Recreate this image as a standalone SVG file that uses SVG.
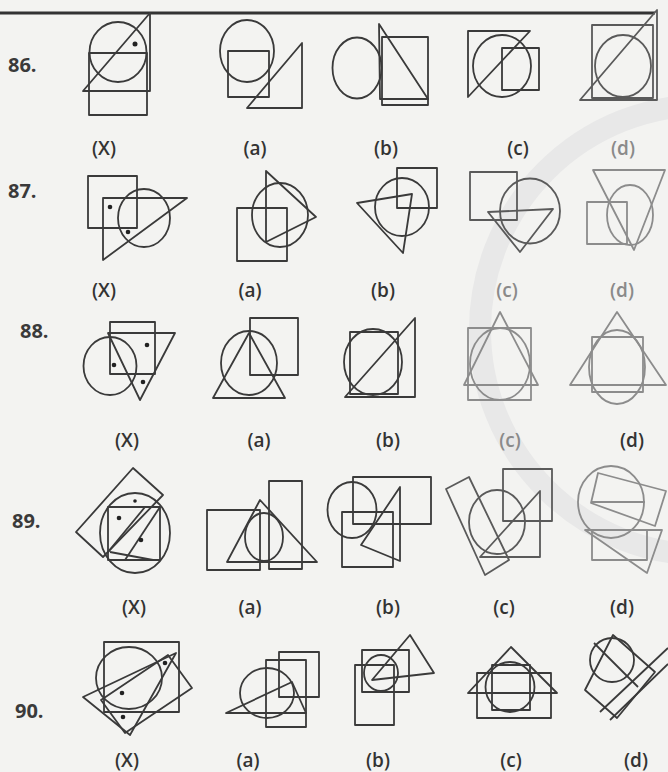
<svg xmlns="http://www.w3.org/2000/svg" width="668" height="772" viewBox="0 0 668 772">
<style>
.s{fill:none;stroke:#3a3a3a;stroke-width:1.8;stroke-linejoin:round}
.m{stroke:#5a5a5a}
.l{stroke:#8c8c8c}
.d{fill:#222}
.num{font-family:"Open Sans","Liberation Sans",sans-serif;font-weight:bold;font-size:20px;fill:#3a3a3a}
.lab{font-family:"Open Sans","Liberation Sans",sans-serif;font-weight:600;font-size:19px;fill:#333;text-anchor:middle}
.lg{fill:#8a8a8a}
</style>
<rect width="668" height="772" fill="#f3f3f1"/>
<circle cx="705" cy="330" r="225" fill="none" stroke="#e8e8e8" stroke-width="22"/>
<line x1="0" y1="13" x2="655" y2="13" stroke="#333" stroke-width="3"/>

<!-- Row 86 -->
<text class="num" x="8" y="72">86.</text>
<g id="q86x" class="s">
<ellipse cx="118" cy="52" rx="28.5" ry="30"/>
<polygon points="150,13 83,91 150,91"/>
<rect x="89" y="53" width="58" height="62"/>
<circle class="d" cx="135" cy="44" r="2.5" stroke="none"/>
</g>
<g id="q86a" class="s">
<ellipse cx="247" cy="51" rx="27" ry="31"/>
<rect x="228" y="51" width="41" height="46"/>
<polygon points="302,43 247,108 302,108"/>
</g>
<g id="q86b" class="s">
<ellipse cx="357" cy="68" rx="24.5" ry="30.5"/>
<polygon points="379,24 380,99 428,99"/>
<rect x="382" y="37" width="46" height="68"/>
</g>
<g id="q86c" class="s">
<polygon points="468,31 530,31 468,97"/>
<ellipse cx="502" cy="66" rx="29" ry="31"/>
<rect x="502" y="48" width="37" height="42"/>
</g>
<g id="q86d" class="s m">
<rect x="592" y="25" width="61" height="73"/>
<polygon points="657,10 580,100 657,100"/>
<ellipse cx="623" cy="66" rx="28" ry="31"/>
</g>
<text class="lab" x="104" y="155">(X)</text>
<text class="lab" x="255" y="155">(a)</text>
<text class="lab" x="386" y="155">(b)</text>
<text class="lab" x="518" y="155">(c)</text>
<text class="lab lg" x="623" y="155">(d)</text>

<!-- Row 87 -->
<text class="num" x="8" y="198">87.</text>
<g id="q87x" class="s">
<rect x="88" y="176" width="49" height="52"/>
<polygon points="103,198 187,198 103,260"/>
<ellipse cx="144" cy="218" rx="26" ry="29"/>
<circle class="d" cx="110" cy="207" r="2.3" stroke="none"/>
<circle class="d" cx="128" cy="232" r="2.3" stroke="none"/>
</g>
<g id="q87a" class="s">
<rect x="237" y="208" width="50" height="53"/>
<ellipse cx="280" cy="215" rx="28" ry="32"/>
<polygon points="266,171 316,217 266,242"/>
</g>
<g id="q87b" class="s">
<ellipse cx="402" cy="207" rx="27" ry="29"/>
<rect x="397" y="168" width="40" height="40"/>
<polygon points="357,203 412,194 403,253"/>
</g>
<g id="q87c" class="s m">
<rect x="470" y="172" width="47" height="48"/>
<ellipse cx="530" cy="211" rx="30" ry="32.5"/>
<polygon points="488,212 553,209 520,252"/>
</g>
<g id="q87d" class="s l">
<polygon points="593,170 665,170 634,250"/>
<ellipse cx="630" cy="215" rx="23" ry="30"/>
<rect x="587" y="202" width="40" height="42"/>
</g>
<text class="lab" x="104" y="297">(X)</text>
<text class="lab" x="250" y="297">(a)</text>
<text class="lab" x="383" y="297">(b)</text>
<text class="lab lg" x="507" y="297">(c)</text>
<text class="lab lg" x="622" y="297">(d)</text>

<!-- Row 88 -->
<text class="num" x="20" y="338">88.</text>
<g id="q88x" class="s">
<rect x="110" y="322" width="45" height="52"/>
<ellipse cx="110" cy="366" rx="26.5" ry="29"/>
<polygon points="108,333 175,333 140,400"/>
<circle class="d" cx="147" cy="345" r="2.3" stroke="none"/>
<circle class="d" cx="114" cy="365" r="2.3" stroke="none"/>
<circle class="d" cx="143" cy="382" r="2.3" stroke="none"/>
</g>
<g id="q88a" class="s">
<rect x="250" y="318" width="48" height="57"/>
<ellipse cx="249" cy="363" rx="28" ry="32"/>
<polygon points="249,333 213,398 285,398"/>
</g>
<g id="q88b" class="s">
<ellipse cx="373" cy="362" rx="29" ry="33"/>
<rect x="350" y="332" width="48" height="62"/>
<polygon points="415,318 345,397 415,397"/>
</g>
<g id="q88c" class="s l">
<polygon points="500,312 464,385 538,385"/>
<rect x="468" y="328" width="63" height="72"/>
<ellipse cx="500" cy="364" rx="30" ry="36"/>
</g>
<g id="q88d" class="s l">
<polygon points="617,312 570,385 666,385"/>
<rect x="592" y="337" width="51" height="55"/>
<ellipse cx="617" cy="367" rx="28" ry="37"/>
</g>
<text class="lab" x="127" y="447">(X)</text>
<text class="lab" x="259" y="447">(a)</text>
<text class="lab" x="388" y="447">(b)</text>
<text class="lab lg" x="510" y="447">(c)</text>
<text class="lab" x="632" y="447">(d)</text>

<!-- Row 89 -->
<text class="num" x="12" y="528">89.</text>
<g id="q89x" class="s">
<polygon points="133,468 163,495 103,557 76,532"/>
<ellipse cx="135" cy="533" rx="35" ry="40"/>
<rect x="108" y="507" width="52" height="53"/>
<line x1="145" y1="507" x2="108" y2="552"/>
<line x1="160" y1="507" x2="125" y2="560"/>
<line x1="110" y1="552" x2="153" y2="560"/>
<circle class="d" cx="119" cy="518" r="2.3" stroke="none"/>
<circle class="d" cx="141" cy="540" r="2.3" stroke="none"/>
<circle class="d" cx="135" cy="501" r="1.8" stroke="none"/>
</g>
<g id="q89a" class="s">
<rect x="207" y="510" width="53" height="60"/>
<rect x="269" y="481" width="33" height="88"/>
<polygon points="260,500 227,562 317,562"/>
<ellipse cx="264" cy="537" rx="19" ry="24"/>
</g>
<g id="q89b" class="s">
<ellipse cx="352" cy="510" rx="24.5" ry="28"/>
<rect x="353" y="477" width="78" height="47"/>
<rect x="342" y="512" width="51" height="55"/>
<polygon points="400,487 400,561 361,545"/>
</g>
<g id="q89c" class="s m">
<polygon points="446,489 469,477 509,560 485,575"/>
<ellipse cx="497" cy="522" rx="28" ry="32"/>
<rect x="503" y="469" width="49" height="52"/>
<polygon points="540,491 540,557 480,557"/>
</g>
<g id="q89d" class="s l">
<ellipse cx="611" cy="502" rx="33" ry="36"/>
<polygon points="598,473 666,491 655,526 591,503"/>
<line x1="591" y1="502" x2="645" y2="502"/>
<rect x="592" y="530" width="55" height="30"/>
<polygon points="585,530 662,530 647,573"/>
</g>
<text class="lab" x="134" y="614">(X)</text>
<text class="lab" x="250" y="614">(a)</text>
<text class="lab" x="388" y="614">(b)</text>
<text class="lab" x="504" y="614">(c)</text>
<text class="lab" x="622" y="614">(d)</text>

<!-- Row 90 -->
<text class="num" x="15" y="718">90.</text>
<g id="q90x" class="s">
<rect x="104" y="642" width="75" height="70"/>
<ellipse cx="129" cy="678" rx="33" ry="31"/>
<polygon points="101,700 168,655 192,688 125,733"/>
<polygon points="83,697 176,653 130,735"/>
<circle class="d" cx="122" cy="693" r="2.3" stroke="none"/>
<circle class="d" cx="123" cy="717" r="2.3" stroke="none"/>
<circle class="d" cx="165" cy="663" r="2.3" stroke="none"/>
</g>
<g id="q90a" class="s">
<rect x="279" y="652" width="40" height="45"/>
<rect x="266" y="660" width="40" height="67"/>
<ellipse cx="267" cy="693" rx="27" ry="25"/>
<polygon points="226,713 292,682 306,713"/>
</g>
<g id="q90b" class="s">
<rect x="355" y="665" width="39" height="60"/>
<rect x="362" y="650" width="47" height="42"/>
<ellipse cx="381" cy="673" rx="17" ry="18"/>
<polygon points="410,635 434,673 372,680"/>
</g>
<g id="q90c" class="s">
<polygon points="511,647 468,693 557,693"/>
<rect x="477" y="673" width="74" height="45"/>
<ellipse cx="510" cy="687" rx="24.5" ry="25"/>
<rect x="492" y="665" width="38" height="45"/>
</g>
<g id="q90d" class="s">
<ellipse cx="612" cy="660" rx="22" ry="22"/>
<polygon points="613,635 655,672 617,718 585,690"/>
<line x1="594" y1="643" x2="638" y2="687"/>
<line x1="600" y1="712" x2="668" y2="648"/>
<line x1="610" y1="720" x2="668" y2="664"/>
</g>
<text class="lab" x="127" y="767">(X)</text>
<text class="lab" x="248" y="767">(a)</text>
<text class="lab" x="378" y="767">(b)</text>
<text class="lab" x="511" y="767">(c)</text>
<text class="lab" x="636" y="767">(d)</text>
</svg>
